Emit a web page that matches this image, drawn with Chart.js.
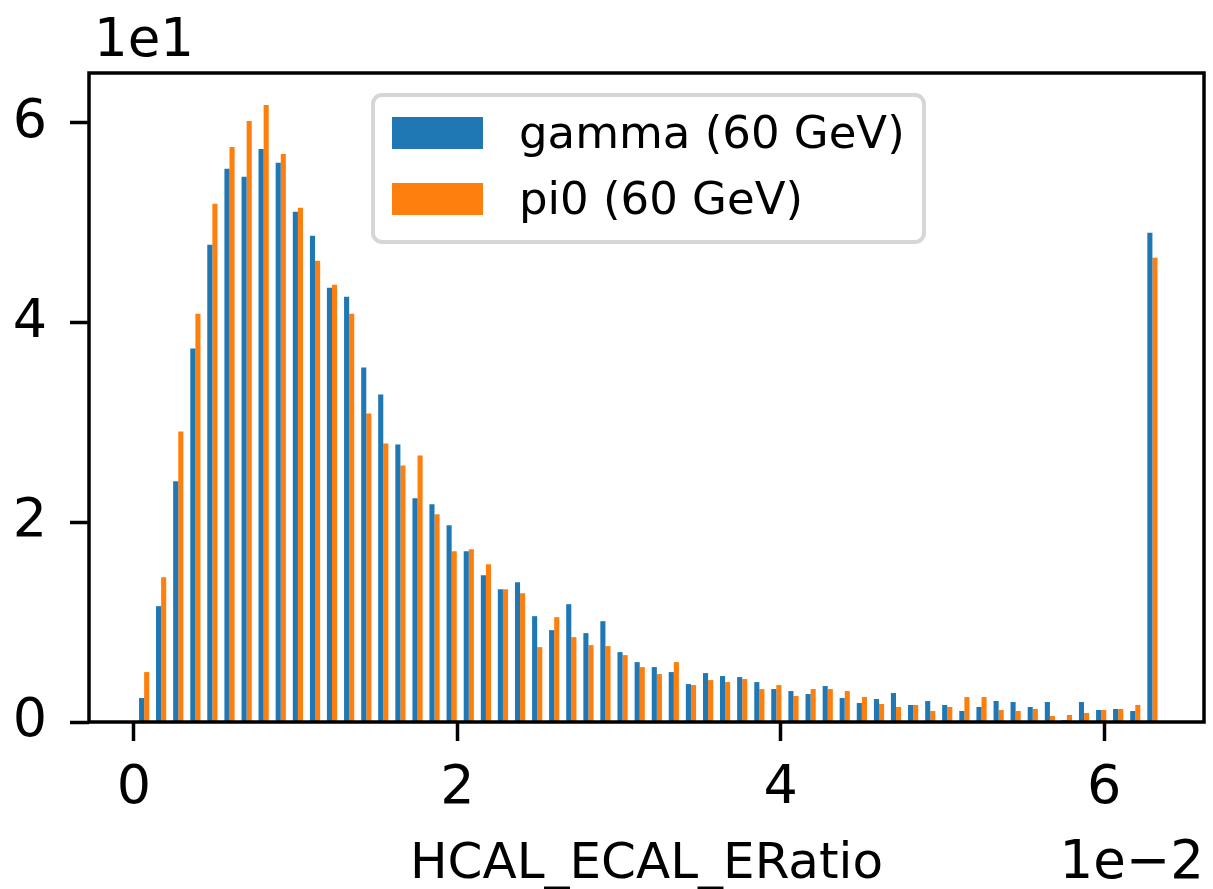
<!DOCTYPE html>
<html>
<head>
<meta charset="utf-8">
<title>HCAL_ECAL_ERatio</title>
<script src="https://cdn.jsdelivr.net/npm/chart.js@4.4.1/dist/chart.umd.min.js"></script>
<style>
    html, body { margin: 0; padding: 0; background: #fff; }
    #wrap { width: 1213px; height: 889px; }
</style>
</head>
<body>
<div id="wrap"><canvas id="histChart" width="1213" height="889"></canvas></div>
<script>
// bin centres (x axis is in units of 1e-2)
const binCenters = [
    0.063, 0.168, 0.274, 0.380, 0.485, 0.591, 0.697, 0.802, 0.908, 1.014,
    1.120, 1.225, 1.331, 1.437, 1.542, 1.648, 1.754, 1.859, 1.965, 2.071,
    2.177, 2.282, 2.388, 2.494, 2.599, 2.705, 2.811, 2.916, 3.022, 3.128,
    3.234, 3.339, 3.445, 3.551, 3.656, 3.762, 3.868, 3.973, 4.079, 4.185,
    4.291, 4.396, 4.502, 4.608, 4.713, 4.819, 4.925, 5.030, 5.136, 5.242,
    5.348, 5.453, 5.559, 5.665, 5.770, 5.876, 5.982, 6.087, 6.193, 6.299
];

// counts (y axis is in units of 1e1)
const gammaCounts = [
    0.24, 1.16, 2.41, 3.74, 4.78, 5.54, 5.46, 5.74, 5.60, 5.11,
    4.87, 4.35, 4.26, 3.55, 3.28, 2.78, 2.24, 2.18, 1.97, 1.71,
    1.47, 1.33, 1.40, 1.06, 0.92, 1.18, 0.89, 1.01, 0.70, 0.60,
    0.55, 0.50, 0.38, 0.49, 0.46, 0.45, 0.40, 0.33, 0.31, 0.28,
    0.36, 0.24, 0.19, 0.23, 0.29, 0.17, 0.21, 0.17, 0.11, 0.15,
    0.21, 0.20, 0.15, 0.20, 0.02, 0.20, 0.12, 0.13, 0.11, 4.90
];

const pi0Counts = [
    0.50, 1.45, 2.91, 4.09, 5.19, 5.76, 6.02, 6.18, 5.69, 5.15,
    4.62, 4.38, 4.09, 3.09, 2.79, 2.57, 2.67, 2.08, 1.71, 1.73,
    1.58, 1.33, 1.29, 0.75, 1.05, 0.85, 0.77, 0.76, 0.67, 0.55,
    0.48, 0.60, 0.37, 0.42, 0.40, 0.43, 0.33, 0.37, 0.26, 0.33,
    0.33, 0.31, 0.25, 0.18, 0.15, 0.17, 0.11, 0.15, 0.25, 0.25,
    0.12, 0.11, 0.13, 0.06, 0.07, 0.09, 0.12, 0.13, 0.17, 4.65
];

const seriesLabels = ['gamma (60 GeV)', 'pi0 (60 GeV)'];
const seriesColors = ['#1f77b4', '#ff7f0e'];
const xTicks = [0, 2, 4, 6];
const yTicks = [0, 2, 4, 6];
const xTitle = 'HCAL_ECAL_ERatio';
const xOffsetText = '1e\u22122';
const yOffsetText = '1e1';

const FONT = '"DejaVu Sans", "Liberation Sans", sans-serif';

// matplotlib style frame drawn over the bars
const framePlugin = {
    id: 'frame',
    afterDatasetsDraw(chart) {
        const { ctx, chartArea: a } = chart;
        ctx.save();
        ctx.strokeStyle = '#000';
        ctx.lineWidth = 3.5;
        ctx.strokeRect(a.left, a.top, a.right - a.left, a.bottom - a.top);
        ctx.restore();
    }
};

// axis label + the 1e1 / 1e-2 offset texts
const labelsPlugin = {
    id: 'axisTexts',
    afterDraw(chart) {
        const { ctx, chartArea: a } = chart;
        ctx.save();
        ctx.fillStyle = '#000';
        ctx.textBaseline = 'alphabetic';

        ctx.font = `53px ${FONT}`;
        ctx.textAlign = 'left';
        ctx.fillText(yOffsetText, a.left + 5, 56);
        ctx.textAlign = 'right';
        ctx.fillText(xOffsetText, a.right, 878);

        ctx.font = `50px ${FONT}`;
        ctx.textAlign = 'center';
        ctx.fillText(xTitle, (a.left + a.right) / 2, 878);
        ctx.restore();
    }
};

// legend box in the upper middle, like plt.legend()
const legendPlugin = {
    id: 'boxLegend',
    afterDraw(chart) {
        const ctx = chart.ctx;
        const box = { x: 373, y: 95, w: 551, h: 147, r: 9 };
        ctx.save();
        ctx.beginPath();
        ctx.roundRect(box.x, box.y, box.w, box.h, box.r);
        ctx.fillStyle = 'rgba(255,255,255,0.8)';
        ctx.fill();
        ctx.lineWidth = 4;
        ctx.strokeStyle = 'rgba(204,204,204,0.8)';
        ctx.stroke();

        ctx.font = `45px ${FONT}`;
        ctx.textAlign = 'left';
        ctx.textBaseline = 'alphabetic';
        chart.data.datasets.forEach((ds, i) => {
            const rowTop = 117 + i * 66;
            ctx.fillStyle = ds.backgroundColor;
            ctx.fillRect(392, rowTop, 91, 32);
            ctx.fillStyle = '#000';
            ctx.fillText(ds.label, 519, rowTop + 31);
        });
        ctx.restore();
    }
};

function makeDataset(label, counts, color) {
    return {
        label: label,
        data: binCenters.map((x, i) => ({ x: x, y: counts[i] })),
        backgroundColor: color,
        borderWidth: 0,
        categoryPercentage: 0.6,
        barPercentage: 1.0
    };
}

const tickGrid = {
    offset: false,
    drawOnChartArea: false,
    drawTicks: true,
    tickLength: 19,
    tickWidth: 3.5,
    tickColor: '#000'
};

new Chart(document.getElementById('histChart'), {
    type: 'bar',
    data: {
        datasets: [
            makeDataset(seriesLabels[0], gammaCounts, seriesColors[0]),
            makeDataset(seriesLabels[1], pi0Counts, seriesColors[1])
        ]
    },
    options: {
        responsive: false,
        animation: false,
        devicePixelRatio: 1,
        layout: { padding: { top: 73, right: 9, left: 0, bottom: 0 } },
        plugins: {
            legend: { display: false },
            tooltip: { enabled: false }
        },
        scales: {
            x: {
                type: 'linear',
                offset: false,
                min: -0.278,
                max: 6.618,
                afterBuildTicks: s => { s.ticks = xTicks.map(v => ({ value: v })); },
                afterFit: s => { s.height = 167; },
                grid: tickGrid,
                border: { display: false },
                ticks: {
                    color: '#000',
                    font: { family: FONT, size: 54 },
                    padding: 16,
                    maxRotation: 0,
                    autoSkip: false
                }
            },
            y: {
                type: 'linear',
                min: 0,
                max: 6.5,
                afterBuildTicks: s => { s.ticks = yTicks.map(v => ({ value: v })); },
                afterFit: s => { s.width = 89; },
                grid: tickGrid,
                border: { display: false },
                ticks: {
                    color: '#000',
                    font: { family: FONT, size: 54 },
                    padding: 23
                }
            }
        }
    },
    plugins: [framePlugin, labelsPlugin, legendPlugin]
});
</script>
</body>
</html>
